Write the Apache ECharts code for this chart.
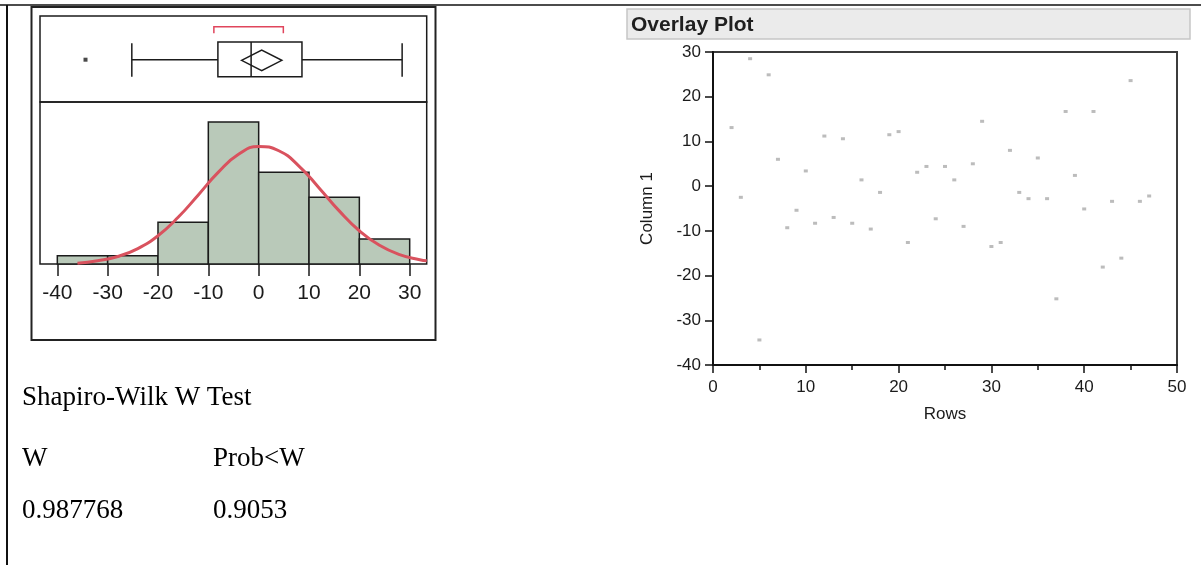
<!DOCTYPE html>
<html>
<head>
<meta charset="utf-8">
<script src="https://cdn.jsdelivr.net/npm/echarts@6/dist/echarts.min.js"></script>
<style>
  html, body { margin: 0; padding: 0; background: #ffffff; }
  #chart { width: 1201px; height: 565px; }
</style>
</head>
<body>
<div id="chart"></div>
<script>
// ---- Distribution of Column 1 ----
// Histogram: lower bin edges, bin width and counts
const binStarts = [-40, -30, -20, -10, 0, 10, 20];
const binWidth = 10;
const binCounts = [1, 1, 5, 17, 11, 8, 3];
const histTicks = [-40, -30, -20, -10, 0, 10, 20, 30];

// Fitted normal curve, in count units
const curveX = [-36, -32, -28, -24, -20, -16, -12, -8, -4, 0, 4, 8, 12, 16, 20, 24, 28, 32, 33.4];
const curveY = [0.10, 0.40, 0.90, 1.85, 3.39, 5.59, 8.27, 11.0, 13.13, 14.08, 13.56, 11.73, 9.11, 6.36, 3.98, 2.24, 1.13, 0.51, 0.38];

// Outlier box plot: lower whisker, Q1, median, Q3, upper whisker
const boxStats = [-25.2, -8.1, -1.5, 8.6, 28.5];
const outliers = [-34.4];
// Means diamond: lower 95%, mean, upper 95%
const meanDiamond = [-3.4, 0.6, 4.6];
// Shortest half bracket
const shortestHalf = [-8.9, 4.9];

// ---- Overlay plot: Column 1 by row ----
const rows = [2, 3, 4, 5, 6, 7, 8, 9, 10, 11, 12, 13, 14, 15, 16, 17, 18, 19, 20, 21, 22, 23, 24,
              25, 26, 27, 28, 29, 30, 31, 32, 33, 34, 35, 36, 37, 38, 39, 40, 41, 42, 43, 44, 45, 46, 47];
const column1 = [13.1, -2.5, 28.5, -34.4, 24.9, 6.0, -9.3, -5.4, 3.4, -8.3, 11.2, -7.0, 10.6, -8.3, 1.4,
                 -9.6, -1.4, 11.5, 12.2, -12.6, 3.1, 4.4, -7.3, 4.4, 1.4, -9.0, 5.0, 14.5, -13.5, -12.6,
                 8.0, -1.4, -2.8, 6.3, -2.8, -25.2, 16.7, 2.4, -5.1, 16.7, -18.1, -3.4, -16.1, 23.6, -3.4, -2.2];

// ---- Normality test ----
const testTitle = 'Shapiro-Wilk W Test';
const testHeaders = ['W', 'Prob<W'];
const testValues = ['0.987768', '0.9053'];

// ---- layout ----
const SANS = '"Liberation Sans", Arial, sans-serif';
const SERIF = '"Liberation Serif", "Times New Roman", serif';
const INK = '#1b1b1b';

const distMin = -43.44, distMax = 33.38;
const distLeft = 40, distWidth = 386.7;
const pxPerUnit = distWidth / (distMax - distMin);
const tickMin = histTicks[0], tickMax = histTicks[histTicks.length - 1];
const tickLeft = distLeft + (tickMin - distMin) * pxPerUnit;
const tickWidth = (tickMax - tickMin) * pxPerUnit;

const chart = echarts.init(document.getElementById('chart'), null, { renderer: 'canvas' });

const frameStyle = { stroke: INK, lineWidth: 1.5, fill: 'none' };
function seg(a, b, style) {
  return { type: 'line', shape: { x1: a[0], y1: a[1], x2: b[0], y2: b[1] }, style: style };
}

// box plot panel uses a 0..86 vertical scale measured from the panel top
function renderBox(params, api) {
  const lo = api.value(0), q1 = api.value(1), md = api.value(2), q3 = api.value(3), hi = api.value(4);
  const c = (x, y) => api.coord([x, y]);
  const yc = 43.7, yt = 26, yb = 60.7;
  const tl = c(q1, yt), br = c(q3, yb);
  return {
    type: 'group',
    children: [
      seg(c(lo, yc), c(q1, yc), frameStyle),
      seg(c(q3, yc), c(hi, yc), frameStyle),
      seg(c(lo, 27.3), c(lo, 60.7), frameStyle),
      seg(c(hi, 27.3), c(hi, 60.7), frameStyle),
      { type: 'rect', shape: { x: tl[0], y: tl[1], width: br[0] - tl[0], height: br[1] - tl[1] }, style: frameStyle },
      seg(c(md, yt), c(md, yb), frameStyle)
    ]
  };
}

function renderDiamond(params, api) {
  const lo = api.value(0), mean = api.value(1), hi = api.value(2);
  const c = (x, y) => api.coord([x, y]);
  return {
    type: 'polygon',
    shape: { points: [c(lo, 44.3), c(mean, 34), c(hi, 44.3), c(mean, 54.7)] },
    style: frameStyle
  };
}

function renderBracket(params, api) {
  const a = api.value(0), b = api.value(1);
  const c = (x, y) => api.coord([x, y]);
  return {
    type: 'polyline',
    shape: { points: [c(a, 17.3), c(a, 10.7), c(b, 10.7), c(b, 17.3)] },
    style: { stroke: '#e0455c', lineWidth: 1.5, fill: 'none' }
  };
}

function renderBin(params, api) {
  const x0 = api.value(0), x1 = api.value(1), n = api.value(2);
  const p0 = api.coord([x0, n]), p1 = api.coord([x1, 0]);
  return {
    type: 'rect',
    shape: { x: p0[0], y: p0[1], width: p1[0] - p0[0], height: p1[1] - p0[1] },
    style: { fill: '#b9c9b9', stroke: INK, lineWidth: 1.5 }
  };
}

const hiddenAxis = { show: false };

const option = {
  animation: false,
  backgroundColor: '#ffffff',
  grid: [
    { left: distLeft, top: 16, width: distWidth, height: 86, show: true, borderColor: INK, borderWidth: 1.5, outerBoundsMode: 'none' },
    { left: distLeft, top: 102, width: distWidth, height: 162, show: true, borderColor: INK, borderWidth: 1.5, outerBoundsMode: 'none' },
    { left: tickLeft, top: 102, width: tickWidth, height: 162, outerBoundsMode: 'none' },
    { left: 713, top: 52, width: 464, height: 313, show: true, borderColor: '#3c3c3c', borderWidth: 2, outerBoundsMode: 'none' }
  ],
  xAxis: [
    { gridIndex: 0, type: 'value', min: distMin, max: distMax, ...hiddenAxis },
    { gridIndex: 1, type: 'value', min: distMin, max: distMax, ...hiddenAxis },
    {
      gridIndex: 2, type: 'value', min: tickMin, max: tickMax, interval: 10,
      axisLine: { show: false, onZero: false },
      axisTick: { show: true, length: 12, lineStyle: { color: INK, width: 1.5 } },
      splitLine: { show: false },
      axisLabel: { show: true, fontFamily: SANS, fontSize: 21, color: INK, margin: 19 }
    },
    {
      gridIndex: 3, type: 'value', min: 0, max: 50, interval: 10,
      axisLine: { show: true, onZero: false, lineStyle: { color: '#111', width: 2 } },
      axisTick: { show: true, length: 8, lineStyle: { color: '#111', width: 1.5 } },
      minorTick: { show: true, splitNumber: 2, length: 5, lineStyle: { color: '#111', width: 1.5 } },
      splitLine: { show: false },
      minorSplitLine: { show: false },
      axisLabel: { show: true, fontFamily: SANS, fontSize: 17, color: INK, margin: 14 },
      name: 'Rows', nameLocation: 'middle', nameGap: 41,
      nameTextStyle: { fontFamily: SANS, fontSize: 17, color: INK }
    }
  ],
  yAxis: [
    { gridIndex: 0, type: 'value', min: 0, max: 86, inverse: true, ...hiddenAxis },
    { gridIndex: 1, type: 'value', min: 0, max: 19.4, ...hiddenAxis },
    { gridIndex: 2, type: 'value', min: 0, max: 1, ...hiddenAxis },
    {
      gridIndex: 3, type: 'value', min: -40, max: 30, interval: 10,
      axisLine: { show: true, onZero: false, lineStyle: { color: '#111', width: 2 } },
      axisTick: { show: true, length: 8, lineStyle: { color: '#111', width: 1.5 } },
      splitLine: { show: false },
      axisLabel: { show: true, fontFamily: SANS, fontSize: 17, color: INK, margin: 12 },
      name: 'Column 1', nameLocation: 'middle', nameGap: 57, nameRotate: 90,
      nameTextStyle: { fontFamily: SANS, fontSize: 17, color: INK }
    }
  ],
  series: [
    {
      type: 'custom', xAxisIndex: 0, yAxisIndex: 0, renderItem: renderBracket,
      data: [shortestHalf], silent: true
    },
    {
      type: 'custom', xAxisIndex: 0, yAxisIndex: 0, renderItem: renderBox,
      data: [boxStats], silent: true
    },
    {
      type: 'custom', xAxisIndex: 0, yAxisIndex: 0, renderItem: renderDiamond,
      data: [meanDiamond], silent: true
    },
    {
      type: 'scatter', xAxisIndex: 0, yAxisIndex: 0, symbol: 'rect', symbolSize: 4,
      itemStyle: { color: INK }, data: outliers.map(v => [v, 43.7]), silent: true
    },
    {
      type: 'custom', xAxisIndex: 1, yAxisIndex: 1, renderItem: renderBin,
      data: binStarts.map((s, i) => [s, s + binWidth, binCounts[i]]), silent: true
    },
    {
      type: 'line', xAxisIndex: 1, yAxisIndex: 1, smooth: true, showSymbol: false, z: 5,
      lineStyle: { color: '#d9525e', width: 3 },
      data: curveX.map((x, i) => [x, curveY[i]]), silent: true
    },
    {
      type: 'scatter', xAxisIndex: 3, yAxisIndex: 3, symbol: 'rect', symbolSize: [4, 3],
      itemStyle: { color: '#ababab' },
      data: rows.map((r, i) => [r, column1[i]]), silent: true
    }
  ],
  graphic: [
    { type: 'line', shape: { x1: 0, y1: 5, x2: 1201, y2: 5 }, style: { stroke: '#111', lineWidth: 1.5 } },
    { type: 'line', shape: { x1: 7, y1: 5, x2: 7, y2: 565 }, style: { stroke: '#111', lineWidth: 2 } },
    { type: 'rect', shape: { x: 31.5, y: 7, width: 404, height: 333 }, style: { fill: 'none', stroke: '#222', lineWidth: 2 } },
    { type: 'rect', shape: { x: 627, y: 9, width: 563, height: 30 }, style: { fill: '#ebebeb', stroke: '#c6c6c6', lineWidth: 1.5 } },
    { type: 'text', x: 631, y: 25, style: { text: 'Overlay Plot', font: 'bold 21px ' + SANS, fill: '#1f1f1f', verticalAlign: 'middle' } },
    { type: 'text', x: 22, y: 398, style: { text: testTitle, font: '27px ' + SERIF, fill: '#000', verticalAlign: 'middle' } },
    { type: 'text', x: 22, y: 459, style: { text: testHeaders[0], font: '27px ' + SERIF, fill: '#000', verticalAlign: 'middle' } },
    { type: 'text', x: 213, y: 459, style: { text: testHeaders[1], font: '27px ' + SERIF, fill: '#000', verticalAlign: 'middle' } },
    { type: 'text', x: 22, y: 511, style: { text: testValues[0], font: '27px ' + SERIF, fill: '#000', verticalAlign: 'middle' } },
    { type: 'text', x: 213, y: 511, style: { text: testValues[1], font: '27px ' + SERIF, fill: '#000', verticalAlign: 'middle' } }
  ]
};

chart.setOption(option);
</script>
</body>
</html>
